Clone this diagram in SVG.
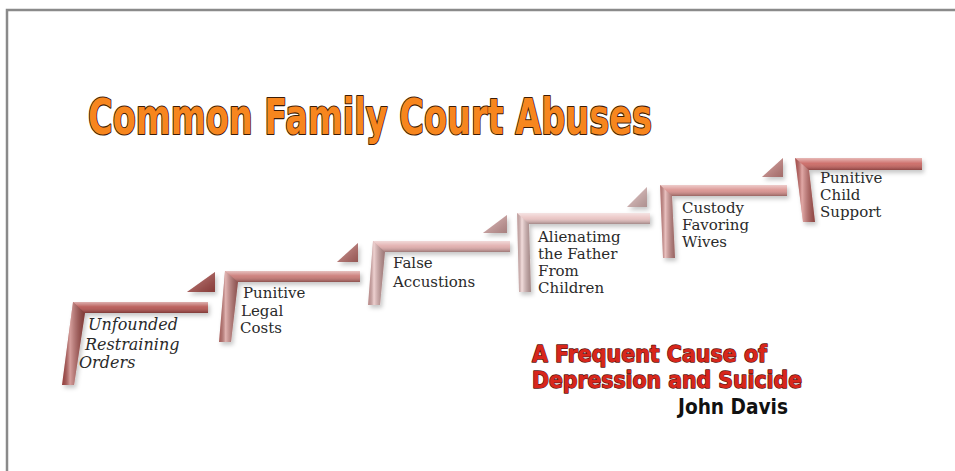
<svg xmlns="http://www.w3.org/2000/svg" width="955" height="471" viewBox="0 0 955 471">
<defs>
<style>
.frame{fill:none;stroke:#8a8a8a;stroke-width:2.5}
.title{font-family:"Liberation Sans Narrow","DejaVu Sans Condensed","DejaVu Sans",sans-serif;font-weight:bold;font-size:50px;fill:#f7861e;stroke:#3b1d08;stroke-width:2.2;paint-order:stroke;stroke-linejoin:round}
.sub{font-family:"Liberation Sans Narrow","DejaVu Sans Condensed","DejaVu Sans",sans-serif;font-weight:bold;font-size:23px;fill:#d8261b;stroke:#5c1410;stroke-width:1.3;paint-order:stroke;stroke-linejoin:round}
.author{font-family:"Liberation Sans Narrow","DejaVu Sans Condensed","DejaVu Sans",sans-serif;font-weight:bold;font-size:21px;fill:#111}
.lbl{font-family:"DejaVu Serif","Liberation Serif",serif;font-size:15px;fill:#2a2a2a}
.ital{font-style:italic;font-size:16px}
.shade-h{fill:url(#gh)}
.shade-v{fill:url(#gv)}
.shade-t{fill:url(#gt)}
.s1{fill:#b4504c}
.s2{fill:#c87571}
.s3{fill:#e0abaa}
.s4{fill:#e9c2c1}
.s5{fill:#d98f8c}
.s6{fill:#c9625e}
</style>
<linearGradient id="gh" x1="0" y1="0" x2="0" y2="1">
<stop offset="0" stop-color="#fff" stop-opacity="0.55"/>
<stop offset="0.45" stop-color="#fff" stop-opacity="0.1"/>
<stop offset="1" stop-color="#000" stop-opacity="0.3"/>
</linearGradient>
<linearGradient id="gv" x1="0" y1="0" x2="1" y2="0">
<stop offset="0" stop-color="#000" stop-opacity="0.15"/>
<stop offset="0.35" stop-color="#fff" stop-opacity="0.45"/>
<stop offset="1" stop-color="#000" stop-opacity="0.3"/>
</linearGradient>
<linearGradient id="gt" x1="0" y1="0" x2="1" y2="1">
<stop offset="0" stop-color="#fff" stop-opacity="0.35"/>
<stop offset="1" stop-color="#000" stop-opacity="0.25"/>
</linearGradient>
<filter id="sh" x="-10%" y="-10%" width="130%" height="140%">
<feDropShadow dx="2" dy="3" stdDeviation="2" flood-color="#000" flood-opacity="0.22"/>
</filter>
</defs>

<rect width="955" height="471" fill="#fff"/>
<path class="frame" d="M7,471 V10 H955"/>

<g id="title">
<text class="title" x="88" y="134" textLength="564" lengthAdjust="spacingAndGlyphs">Common Family Court Abuses</text>
</g>

<g id="step1">
<g filter="url(#sh)">
<polygon class="s1" points="187,292 215,272 215,292"/>
<polygon class="shade-t" points="187,292 215,272 215,292"/>
<polygon class="s1" points="73,302 208,302 208,313 85,313 74,385 62,385"/>
<polygon class="shade-h" points="73,302 208,302 208,313 85,313"/>
<polygon class="shade-v" points="73,302 85,313 74,385 62,385"/>
</g>
<text class="lbl ital" x="88" y="330">Unfounded</text>
<text class="lbl ital" x="85" y="350">Restraining</text>
<text class="lbl ital" x="79" y="368">Orders</text>
</g>

<g id="step2">
<g filter="url(#sh)">
<polygon class="s2" points="337,262 358,243 358,262"/>
<polygon class="shade-t" points="337,262 358,243 358,262"/>
<polygon class="s2" points="225,271 360,271 360,282 238,282 231,342 219,342"/>
<polygon class="shade-h" points="225,271 360,271 360,282 238,282"/>
<polygon class="shade-v" points="225,271 238,282 231,342 219,342"/>
</g>
<text class="lbl" x="243" y="298">Punitive</text>
<text class="lbl" x="241" y="316">Legal</text>
<text class="lbl" x="240" y="333">Costs</text>
</g>

<g id="step3">
<g filter="url(#sh)">
<polygon class="s3" points="483,233 507,215 507,233"/>
<polygon class="shade-t" points="483,233 507,215 507,233"/>
<polygon class="s3" points="373,241 510,241 510,252 385,252 380,305 368,305"/>
<polygon class="shade-h" points="373,241 510,241 510,252 385,252"/>
<polygon class="shade-v" points="373,241 385,252 380,305 368,305"/>
</g>
<text class="lbl" x="393" y="268">False</text>
<text class="lbl" x="393" y="287">Accustions</text>
</g>

<g id="step4">
<g filter="url(#sh)">
<polygon class="s4" points="627,207 647,187 647,207"/>
<polygon class="shade-t" points="627,207 647,187 647,207"/>
<polygon class="s4" points="517,213 650,213 650,224 529,224 531,292 519,292"/>
<polygon class="shade-h" points="517,213 650,213 650,224 529,224"/>
<polygon class="shade-v" points="517,213 529,224 531,292 519,292"/>
</g>
<text class="lbl" x="538" y="242">Alienatimg</text>
<text class="lbl" x="538" y="259">the Father</text>
<text class="lbl" x="538" y="276">From</text>
<text class="lbl" x="538" y="293">Children</text>
</g>

<g id="step5">
<g filter="url(#sh)">
<polygon class="s5" points="762,177 783,158 783,177"/>
<polygon class="shade-t" points="762,177 783,158 783,177"/>
<polygon class="s5" points="660,185 787,185 787,196 672,196 675,258 663,258"/>
<polygon class="shade-h" points="660,185 787,185 787,196 672,196"/>
<polygon class="shade-v" points="660,185 672,196 675,258 663,258"/>
</g>
<text class="lbl" x="682" y="213">Custody</text>
<text class="lbl" x="682" y="230">Favoring</text>
<text class="lbl" x="682" y="247">Wives</text>
</g>

<g id="step6">
<g filter="url(#sh)">
<polygon class="s6" points="795,158 922,158 922,170 809,170 815,222 803,222"/>
<polygon class="shade-h" points="795,158 922,158 922,170 809,170"/>
<polygon class="shade-v" points="795,158 809,170 815,222 803,222"/>
</g>
<text class="lbl" x="820" y="183">Punitive</text>
<text class="lbl" x="820" y="200">Child</text>
<text class="lbl" x="820" y="217">Support</text>
</g>

<g id="subtitle">
<text class="sub" x="532" y="362" textLength="235" lengthAdjust="spacingAndGlyphs">A Frequent Cause of</text>
<text class="sub" x="532" y="388" textLength="270" lengthAdjust="spacingAndGlyphs">Depression and Suicide</text>
<text class="author" x="678" y="414" textLength="110" lengthAdjust="spacingAndGlyphs">John Davis</text>
</g>
</svg>
